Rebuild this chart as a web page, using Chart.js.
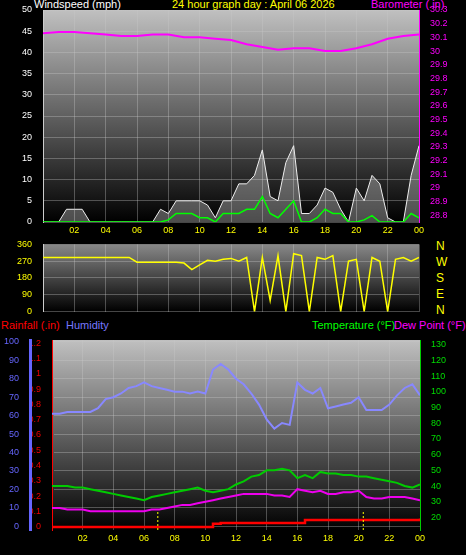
<!DOCTYPE html>
<html>
<head>
<meta charset="utf-8">
<script src="https://cdn.jsdelivr.net/npm/chart.js@4/dist/chart.umd.min.js"></script>
<style>
  body { margin: 0; background: #000; width: 466px; height: 555px; position: relative; overflow: hidden; font-family: "Liberation Sans", Arial, sans-serif; }
  canvas { position: absolute; left: 0; }
  .t { position: absolute; font-size: 11px; white-space: nowrap; }
</style>
</head>
<body>
<div class="t" style="left:34px;top:-2px;color:#fff">Windspeed (mph)</div>
<div class="t" style="left:172px;top:-2px;color:#ff0">24 hour graph day : April 06 2026</div>
<div class="t" style="left:371px;top:-2px;color:#f0f">Barometer (.in)</div>
<div class="t" style="left:436px;top:238px;color:#ff0;font-size:12px;line-height:16px">N<br>W<br>S<br>E<br>N</div>
<div class="t" style="left:1px;top:319px;color:#f00">Rainfall (.in)</div>
<div class="t" style="left:66px;top:319px;color:#77f">Humidity</div>
<div class="t" style="left:312px;top:319px;color:#0f0">Temperature (°F)</div>
<div class="t" style="left:394px;top:319px;color:#f0f">Dew Point (°F)</div>
<canvas id="top" width="466" height="236" style="top:0"></canvas>
<canvas id="mid" width="466" height="84" style="top:236px"></canvas>
<canvas id="bot" width="466" height="225" style="top:330px"></canvas>
<script>
// half-hourly samples, hour = index / 2
const halfHours = Array.from({ length: 49 }, (_, i) => i / 2);
const hours = Array.from({ length: 25 }, (_, i) => i);

const windGust = [0,0,0,3,3,3,0,0,0,0,0,0,0,0,0,3,2,5,5,5,5,4,1,5,5,9,9,11,17,6,5,14,18,2,2,4,8,7,3,0,8,5,11,9,1,0,0,11,18];
const windAvg = [0,0,0,0,0,0,0,0,0,0,0,0,0,0,0,0,0.5,2,2,2,1,1,0,2,2,2,3,3,6,2,1,3,5,0,0,1,3,2,2,0,0,0.5,1.5,0,0,0,0,2,1];
const barometer = [30.13,30.14,30.14,30.13,30.12,30.11,30.11,30.12,30.12,30.10,30.10,30.09,30.08,30.05,30.03,30.01,30.02,30.02,30.00,30.00,30.02,30.05,30.09,30.11,30.12];
const windDir = [290,290,290,290,290,290,290,290,290,290,290,290,265,265,265,265,265,265,260,225,250,275,270,280,285,270,290,0,290,60,300,0,310,300,0,290,280,300,0,270,280,0,290,270,0,280,290,270,290];
const humidity = [61,61,62,62,62,62,64,69,70,72,75,76,78,76,75,74,73,73,72,73,72,85,88,85,80,77,72,66,58,53,56,55,78,74,72,75,64,65,66,67,70,63,63,63,66,71,75,77,71];
const temperature = [40,40,40,39,39,38,37,36,35,34,33,32,31,33,34,35,36,37,38,39,37,36,37,38,41,43,46,47,50,50,51,50,45,47,45,49,48,48,47,47,46,46,45,44,43,42,40,39,41];
const dewPoint = [26,26,25,25,25,24,24,24,24,24,24,24,24,25,25,26,27,28,28,29,30,31,32,33,34,35,35,35,35,34,34,33,38,37,36,37,35,35,36,36,37,33,32,32,33,33,33,32,31];
const rainfall = [0,0,0,0,0,0,0,0,0,0,0,0,0,0,0,0,0,0,0,0,0,0.02,0.025,0.025,0.025,0.025,0.025,0.025,0.025,0.025,0.025,0.025,0.025,0.045,0.045,0.045,0.045,0.045,0.045,0.045,0.045,0.045,0.045,0.045,0.045,0.045,0.045,0.045,0.055];
const sunMarks = [6.9, 20.3];

const baroTicks = [28.8,28.9,29,29.1,29.2,29.3,29.4,29.5,29.6,29.7,29.8,29.9,30,30.1,30.2,30.3];
const humTicks = [0,10,20,30,40,50,60,70,80,90,100];
const rainTicks = [0,0.1,0.2,0.3,0.4,0.5,0.6,0.7,0.8,0.9,1,1.1,1.2];
const tempTicks = [20,30,40,50,60,70,80,90,100,110,120,130];

const pts = (xs, ys) => ys.map((y, i) => ({ x: xs[i], y }));
const tickFont = { family: 'Liberation Sans', size: 9 };
const gridStyle = { color: 'rgba(200,200,200,0.35)', tickColor: 'transparent' };
const fixW = w => s => { s.width = w; };
const fixH = h => s => { s.height = h; };
const setTicks = arr => s => { s.ticks = arr.map(v => ({ value: v })); };

const backdrop = {
  id: 'backdrop',
  beforeDraw(chart, args, opts) {
    const { ctx, chartArea: a } = chart;
    const g = ctx.createLinearGradient(0, a.top, 0, a.bottom);
    g.addColorStop(0, opts.top || '#c0c0c0');
    g.addColorStop(1, '#000');
    ctx.save();
    ctx.fillStyle = g;
    ctx.fillRect(a.left, a.top, a.right - a.left, a.bottom - a.top);
    ctx.restore();
  }
};

const sunLines = {
  id: 'sunLines',
  afterDatasetsDraw(chart) {
    const { ctx, chartArea: a, scales } = chart;
    ctx.save();
    ctx.strokeStyle = '#ff0';
    ctx.setLineDash([2, 2]);
    sunMarks.forEach(h => {
      const x = scales.x.getPixelForValue(h);
      ctx.beginPath(); ctx.moveTo(x, a.bottom); ctx.lineTo(x, a.bottom - 20); ctx.stroke();
    });
    ctx.restore();
  }
};

const xAxis = (show) => ({
  type: 'linear', min: 0, max: 24, afterFit: fixH(show ? 14 : 0),
  grid: { ...gridStyle, drawTicks: false },
  border: { display: false },
  ticks: {
    display: show, stepSize: 2, color: '#ff0', font: tickFont, padding: 3,
    callback: v => v === 0 ? '' : String(v % 24).padStart(2, '0')
  }
});

const base = {
  responsive: false, animation: false,
  plugins: { legend: { display: false }, tooltip: { enabled: false } },
  elements: { point: { radius: 0 }, line: { tension: 0 } }
};

new Chart(document.getElementById('top'), {
  type: 'line',
  data: {
    datasets: [
      { data: pts(hours, barometer), yAxisID: 'baro', borderColor: '#f0f', borderWidth: 2 },
      { data: pts(halfHours, windAvg), yAxisID: 'wind', borderColor: '#0f0', borderWidth: 1.5 },
      { data: pts(halfHours, windGust), yAxisID: 'wind', borderColor: '#eee', borderWidth: 1, fill: 'origin', backgroundColor: 'rgba(255,255,255,0.3)' }
    ]
  },
  options: {
    ...base,
    layout: { padding: { top: 10 } },
    scales: {
      x: xAxis(true),
      wind: {
        position: 'left', min: 0, max: 50, afterFit: fixW(43),
        grid: gridStyle, border: { color: '#ccc' },
        ticks: { stepSize: 5, color: '#fff', font: tickFont }
      },
      baro: {
        position: 'right', min: 28.75, max: 30.3, afterFit: fixW(47), afterBuildTicks: setTicks(baroTicks),
        grid: { display: false }, border: { color: '#f0f' },
        ticks: { color: '#f0f', font: tickFont, callback: v => +v.toFixed(1) }
      }
    }
  },
  plugins: [backdrop]
});

new Chart(document.getElementById('mid'), {
  type: 'line',
  data: { datasets: [{ data: pts(halfHours, windDir), yAxisID: 'dir', borderColor: '#ff0', borderWidth: 1.5 }] },
  options: {
    ...base,
    layout: { padding: { top: 7, bottom: 4 } },
    scales: {
      x: xAxis(false),
      dir: {
        position: 'left', min: 0, max: 360, afterFit: fixW(43),
        grid: gridStyle, border: { color: '#ccc' },
        ticks: { stepSize: 90, color: '#ff0', font: tickFont }
      },
      pad: { position: 'right', display: true, afterFit: fixW(47), grid: { display: false }, border: { display: false }, ticks: { display: false } }
    }
  },
  plugins: [{ id: 'bg', beforeDraw: (c) => backdrop.beforeDraw(c, null, { top: '#888' }) }]
});

new Chart(document.getElementById('bot'), {
  type: 'line',
  data: {
    datasets: [
      { data: pts(halfHours, humidity), yAxisID: 'hum', borderColor: '#88f', borderWidth: 2 },
      { data: pts(halfHours, temperature), yAxisID: 'temp', borderColor: '#0c0', borderWidth: 2 },
      { data: pts(halfHours, dewPoint), yAxisID: 'temp', borderColor: '#e0e', borderWidth: 2 },
      { data: pts(halfHours, rainfall), yAxisID: 'rain', borderColor: '#f00', borderWidth: 2.5, stepped: true }
    ]
  },
  options: {
    ...base,
    layout: { padding: { top: 10, bottom: 11 } },
    scales: {
      x: xAxis(true),
      rain: {
        position: 'left', min: -0.02, max: 1.22, afterFit: fixW(22), afterBuildTicks: setTicks(rainTicks),
        grid: { display: false }, border: { color: '#f00', dash: [2, 2] },
        ticks: { color: '#e00', font: tickFont, callback: v => +v.toFixed(1) }
      },
      hum: {
        position: 'left', min: -2, max: 101, afterFit: fixW(30), afterBuildTicks: setTicks(humTicks),
        grid: gridStyle, border: { color: '#66f', width: 3 },
        ticks: { color: '#66f', font: tickFont }
      },
      temp: {
        position: 'right', min: 12, max: 133, afterFit: fixW(46), afterBuildTicks: setTicks(tempTicks),
        grid: { display: false }, border: { color: '#0c0', dash: [2, 2] },
        ticks: { color: '#0d0', font: tickFont }
      }
    }
  },
  plugins: [backdrop, sunLines]
});
</script>
</body>
</html>
